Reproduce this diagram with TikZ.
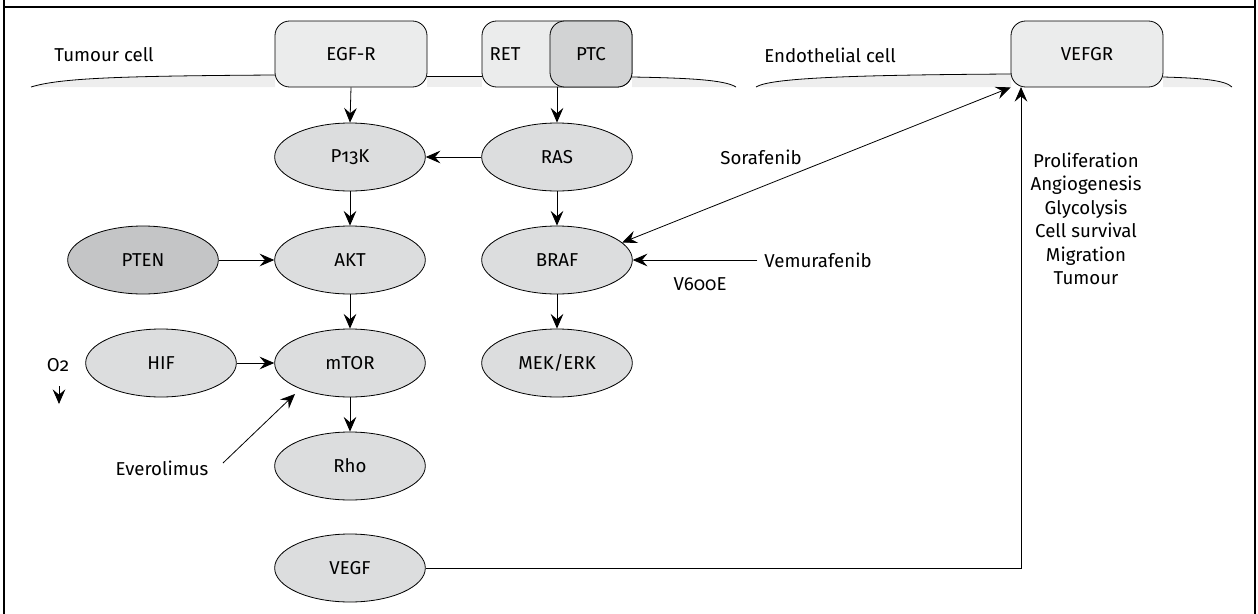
\documentclass[tikz,border=0pt]{standalone}
\usepackage{fontspec}
\setmainfont{Fira Sans}[Numbers=OldStyle]
\usetikzlibrary{shapes.geometric,arrows.meta}
\definecolor{boxfill}{HTML}{EBECEC}
\definecolor{ptcfill}{HTML}{D2D3D4}
\definecolor{ovfill}{HTML}{DCDDDE}
\definecolor{ptenfill}{HTML}{C4C5C6}
\definecolor{memfill}{HTML}{EEEEEE}
\tikzset{
  every node/.style={font=\fontsize{14}{17.6}\selectfont},
  oval/.style={ellipse, draw, line width=0.6pt, fill=ovfill, minimum width=113pt, minimum height=51pt, inner sep=0pt},
  recbox/.style={rectangle, rounded corners=11pt, draw, line width=0.6pt, fill=boxfill, minimum width=114pt, minimum height=49.5pt, inner sep=0pt},
  arr/.style={-{Stealth[length=11pt,width=9.5pt,inset=4pt]}, line width=0.6pt},
  darr/.style={{Stealth[length=11pt,width=9.5pt,inset=4pt]}-{Stealth[length=11pt,width=9.5pt,inset=4pt]}, line width=0.6pt},
  memline/.style={line width=0.6pt},
  txt/.style={inner sep=1pt}
}
\begin{document}
\begin{tikzpicture}[x=0.75pt,y=-0.75pt]
\useasboundingbox (0,0) rectangle (1258,614);
% frame
\draw[line width=1.2pt] (4,0) -- (4,614);
\draw[line width=1.2pt] (1255,0) -- (1255,614);
\draw[line width=1pt] (4,7) -- (1255,7);
% membranes (fill)
\fill[memfill] (31,87) .. controls (60,78) and (120,76) .. (275,75) -- (275,87) -- cycle;
\fill[memfill] (427,76) rectangle (482,87);
\fill[memfill] (632,77) .. controls (690,78) and (725,80) .. (736,87) -- (632,87) -- cycle;
\fill[memfill] (756,87) .. controls (770,78) and (850,75) .. (1011,74) -- (1011,87) -- cycle;
\fill[memfill] (1163,77) .. controls (1200,78) and (1225,80) .. (1232,87) -- (1163,87) -- cycle;
\draw[memline] (31,87) .. controls (60,78) and (120,76) .. (275,75);
\draw[memline] (427,76) -- (482,76);
\draw[memline] (632,77) .. controls (690,78) and (725,80) .. (736,87);
\draw[memline] (756,87) .. controls (770,78) and (850,75) .. (1011,74);
\draw[memline] (1163,77) .. controls (1200,78) and (1225,80) .. (1232,87);
% labels
\node[txt] (tumour) at (104,55) {Tumour cell};
\node[txt] (endo) at (830,55) {Endothelial cell};
% receptors
\node[recbox] (egfr) at (351,54) {EGF-R};
\node[recbox, minimum width=112.5pt] (ret) at (557,54) {};
\node[recbox, fill=ptcfill, minimum width=61.5pt] (ptc) at (591,54) {PTC};
\node[txt] (rettxt) at (505,54) {RET};
\node[recbox] (vefgr) at (1087,54) {VEFGR};
% ovals
\node[oval] (pik) at (350,157) {P13K};
\node[oval] (ras) at (557,157) {RAS};
\node[oval] (akt) at (350,260) {AKT};
\node[oval] (braf) at (557,260) {BRAF};
\node[oval, fill=ptenfill] (pten) at (143,260) {PTEN};
\node[oval] (hif) at (161,363) {HIF};
\node[oval] (mtor) at (350,363) {mTOR};
\node[oval] (mek) at (557,363) {MEK/ERK};
\node[oval] (rho) at (350,466) {Rho};
\node[oval] (vegf) at (350,568) {VEGF};
% texts
\node[txt] (o2) at (58,365) {O2};
\node[txt] (ever) at (162,468) {Everolimus};
\node[txt] (sora) at (761,157) {Sorafenib};
\node[txt, inner xsep=5pt] (vemu) at (818,260) {Vemurafenib};
\node[txt] (v600) at (700,284) {V600E};
\node[txt, align=center] (effects) at (1086,219) {Proliferation\\Angiogenesis\\Glycolysis\\Cell survival\\Migration\\Tumour};
% coordinates
\coordinate (o2a) at (59,386);
\coordinate (o2b) at (59,404);
\coordinate (eva) at (223,463);
\coordinate (evb) at (295,394);
\coordinate (vt) at (1021,87);
% connectors
\draw[arr] (egfr.south) -- (pik.north);
\draw[arr] (557,87) -- (ras.north);
\draw[arr] (ras.west) -- (pik.east);
\draw[arr] (pik.south) -- (akt.north);
\draw[arr] (ras.south) -- (braf.north);
\draw[arr] (pten.east) -- (akt.west);
\draw[arr] (akt.south) -- (mtor.north);
\draw[arr] (hif.east) -- (mtor.west);
\draw[arr] (mtor.south) -- (rho.north);
\draw[arr] (braf.south) -- (mek.north);
\draw[arr] (o2a) -- (o2b);
\draw[arr] (eva) -- (evb);
\draw[arr] (vemu.west) -- (braf.east);
\draw[darr] (braf.15) -- (vefgr.south west);
\draw[arr] (vegf.east) -| (vt);
\end{tikzpicture}
\end{document}
